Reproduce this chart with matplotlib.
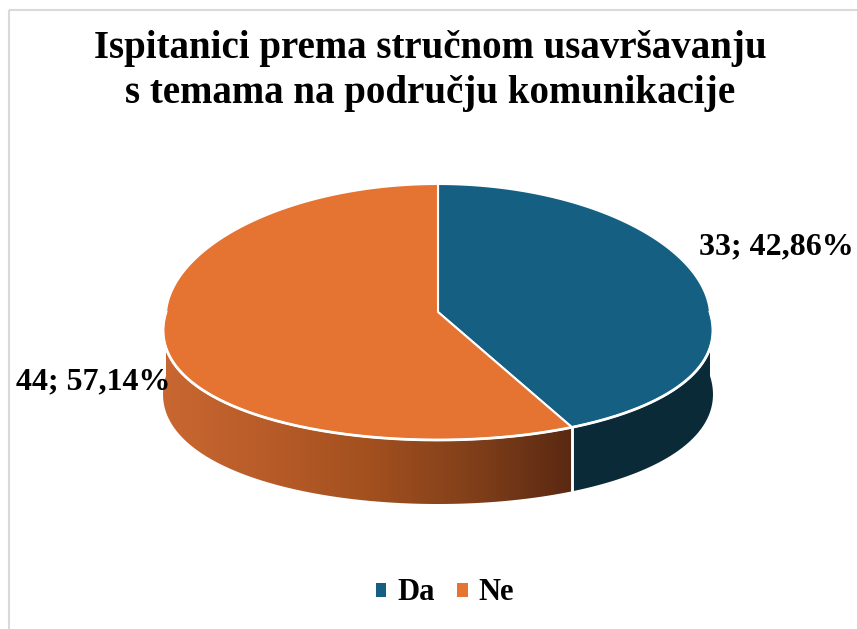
import numpy as np
import matplotlib
matplotlib.use("Agg")
import matplotlib.pyplot as plt
from matplotlib.patches import Polygon, Rectangle, Patch
from matplotlib.colors import LinearSegmentedColormap

# ---- data ----
categories = ["Da", "Ne"]
counts = [33, 44]
labels = ["33; 42,86%", "44; 57,14%"]
title = "Ispitanici prema stručnom usavršavanju\ns temama na području komunikacije"

top_colors = ["#156082", "#E57331"]
side_colors = ["#0B2A38", None]  # orange side uses gradient

plt.rcParams['font.family'] = ['Liberation Serif', 'DejaVu Serif']

W, H = 857, 629
fig = plt.figure(figsize=(W / 100, H / 100), dpi=100)
ax = fig.add_axes([0, 0, 1, 1])
ax.set_xlim(0, W)
ax.set_ylim(H, 0)
ax.axis('off')

# chart border
ax.add_patch(Rectangle((9.5, 9.5), W + 20, H + 20, fill=False, ec="#D9D9D9", lw=1.5))

# geometry of the 3D pie (mild perspective: front is wider)
cx, cy, a, b, depth, persp = 438, 312, 272, 128, 64, 0.15

def pt(theta_deg, dy=0.0):
    t = np.radians(theta_deg)
    s = 1 + persp * max(-np.sin(t), 0) * 1.0 + persp * min(-np.sin(t), 0) * 0.3
    return cx + a * np.cos(t) * s, cy - b * np.sin(t) + dy

total = sum(counts)
fracs = [c / total for c in counts]
# clockwise from 12 o'clock
starts, ends = [], []
ang = 90.0
for f in fracs:
    starts.append(ang)
    ang -= 360 * f
    ends.append(ang)

# ---- side walls ----
orange_cmap = LinearSegmentedColormap.from_list(
    "og", ["#C96731", "#B85C29", "#A3501F", "#82401A", "#5A2912"])

for i, (s, e) in enumerate(zip(starts, ends)):
    lo, hi = e, s
    segs = []
    for shift in (-360, 0, 360):
        l, h = lo + shift, hi + shift
        l2, h2 = max(l, -180), min(h, 0)
        if h2 > l2:
            segs.append((l2, h2))
    for l2, h2 in segs:
        th = np.linspace(l2, h2, 200)
        top = np.array([pt(t) for t in th])
        bot = np.array([pt(t, depth) for t in th[::-1]])
        poly_xy = np.vstack([top, bot])
        if side_colors[i] is not None:
            ax.add_patch(Polygon(poly_xy, closed=True, fc=side_colors[i], ec="none", zorder=2))
        else:
            poly = Polygon(poly_xy, closed=True, fc="none", ec="none", zorder=2)
            ax.add_patch(poly)
            x0, x1 = poly_xy[:, 0].min(), poly_xy[:, 0].max()
            y0, y1 = poly_xy[:, 1].min(), poly_xy[:, 1].max()
            grad = np.linspace(0, 1, 256).reshape(1, -1)
            im = ax.imshow(grad, cmap=orange_cmap, extent=(x0, x1, y1, y0),
                           aspect='auto', zorder=2, interpolation='bilinear')
            im.set_clip_path(poly)
    for bnd in (s, e):
        t = np.radians(bnd)
        if np.sin(t) < 0:
            x, y = pt(bnd)
            ax.plot([x, x], [y, y + depth], color="white", lw=1.8, zorder=3)

# ---- top faces ----
for i, (s, e) in enumerate(zip(starts, ends)):
    th = np.linspace(s, e, 300)
    arc = np.array([pt(t) for t in th])
    poly_xy = np.vstack([[cx, cy], arc])
    ax.add_patch(Polygon(poly_xy, closed=True, fc=top_colors[i], ec="white",
                         lw=1.5, joinstyle='round', zorder=4))

# white rim on front edge
th = np.linspace(-180, 0, 300)
rim = np.array([pt(t) for t in th])
ax.plot(rim[:, 0], rim[:, 1], color="white", lw=2.0, zorder=5)

# ---- data labels ----
ax.text(776, 247, labels[0], ha='center', va='center', fontsize=23,
        fontweight='bold', color='black', zorder=6)
ax.text(93, 382, labels[1], ha='center', va='center', fontsize=23,
        fontweight='bold', color='black', zorder=6)

# ---- title ----
ax.text(430, 71, title, ha='center', va='center', fontsize=28,
        fontweight='bold', color='black', linespacing=1.32)

# ---- legend ----
handles = [Patch(facecolor=top_colors[0], edgecolor='none'),
           Patch(facecolor=top_colors[1], edgecolor='none')]
ax.legend(handles, categories, loc='center', bbox_to_anchor=(445 / W, 1 - 593 / H),
          ncol=2, frameon=False, prop={'size': 22, 'weight': 'bold'},
          handlelength=0.33, handleheight=0.33, handletextpad=0.36,
          columnspacing=0.75, borderpad=0.2)

fig.savefig("out.png", dpi=100)
